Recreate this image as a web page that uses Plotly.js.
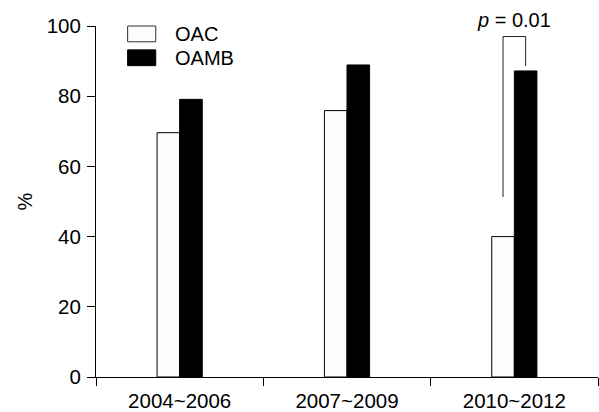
<!DOCTYPE html>
<html>
<head>
<meta charset="utf-8">
<script src="https://cdn.plot.ly/plotly-3.0.1.min.js"></script>
<style>html,body{margin:0;padding:0;background:#fff;}#chart{width:599px;height:412px;}</style>
</head>
<body>
<div id="chart"></div>
<script>
// Data
var periods = ["2004~2006", "2007~2009", "2010~2012"];
var oac = [69.6, 75.9, 40];
var oamb = [79.1, 88.9, 87.2];
var seriesNames = ["OAC", "OAMB"];
var yTicks = [0, 20, 40, 60, 80, 100];
var pLabel = "<i>p</i> = 0.01";

var FONT = "Liberation Sans, Arial, sans-serif";
var bargap = 0.73;
var bw = (1 - bargap) / 2;
var cmpIdx = 2;

var traces = [
  {type: "bar", name: seriesNames[0], x: periods, y: oac,
   marker: {color: "#fcfcfc", line: {color: "#000", width: 1}}, showlegend: false},
  {type: "bar", name: seriesNames[1], x: periods, y: oamb,
   marker: {color: "#000", line: {color: "#000", width: 1}}, showlegend: false}
];

var xl = cmpIdx - bw / 2, xr = cmpIdx + bw / 2;
var bTop = 97;
var bLeft = oac[cmpIdx] + 11.3;
var bRight = oamb[cmpIdx] + 1.4;

var shapes = [
  {type: "path", xref: "x", yref: "y",
   path: "M" + xl + "," + bLeft + " L" + xl + "," + bTop + " L" + xr + "," + bTop + " L" + xr + "," + bRight,
   line: {color: "#222", width: 1}},
  {type: "rect", xref: "paper", yref: "paper", x0: 0.063, x1: 0.119, y0: 0.955, y1: 1.0,
   fillcolor: "#fcfcfc", line: {color: "#333", width: 1}},
  {type: "rect", xref: "paper", yref: "paper", x0: 0.063, x1: 0.119, y0: 0.887, y1: 0.932,
   fillcolor: "#000", line: {color: "#000", width: 1}}
];

var annotations = [
  {xref: "paper", yref: "paper", x: 0.1525, y: 0.977, xanchor: "left", yanchor: "middle",
   text: seriesNames[0], showarrow: false, font: {family: FONT, size: 20, color: "#000"}},
  {xref: "paper", yref: "paper", x: 0.1525, y: 0.909, xanchor: "left", yanchor: "middle",
   text: seriesNames[1], showarrow: false, font: {family: FONT, size: 20, color: "#000"}},
  {xref: "x", yref: "paper", x: cmpIdx, y: 1.017, xanchor: "center", yanchor: "middle",
   text: pLabel, showarrow: false, font: {family: FONT, size: 20, color: "#000"}}
];

var layout = {
  width: 599, height: 412,
  margin: {l: 96, r: 1, t: 26, b: 35},
  paper_bgcolor: "#fff", plot_bgcolor: "#fff",
  barmode: "group", bargap: bargap, bargroupgap: 0,
  font: {family: FONT, size: 20, color: "#000"},
  xaxis: {type: "category", showline: true, linecolor: "#000", linewidth: 1,
          ticks: "outside", tickson: "boundaries", ticklen: 8, tickwidth: 1, tickcolor: "#000",
          ticklabelstandoff: 5,
          showgrid: false, zeroline: false, range: [-0.5, 2.5], fixedrange: true,
          tickfont: {family: FONT, size: 20.5, color: "#000"}},
  yaxis: {range: [0, 100], tickvals: yTicks, ticktext: yTicks.map(String),
          showline: true, linecolor: "#000", linewidth: 1,
          ticks: "outside", ticklen: 8, tickwidth: 1, tickcolor: "#000",
          ticklabelstandoff: 2,
          showgrid: false, zeroline: false, fixedrange: true,
          tickfont: {family: FONT, size: 20.5, color: "#000"},
          title: {text: "%", standoff: 8, font: {family: FONT, size: 20, color: "#000"}}},
  shapes: shapes,
  annotations: annotations,
  showlegend: false
};

Plotly.newPlot("chart", traces, layout, {displayModeBar: false, staticPlot: true});
</script>
</body>
</html>
